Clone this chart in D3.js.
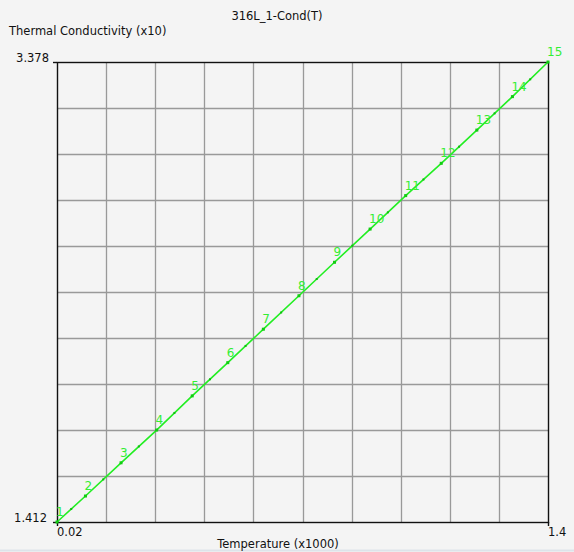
<!DOCTYPE html>
<html><head><meta charset="utf-8">
<script src="https://cdn.jsdelivr.net/npm/d3@7"></script>
<style>
html,body{margin:0;padding:0;background:#f4f4f4;}
svg{display:block;}
text{font-family:"DejaVu Sans",sans-serif;}
</style></head>
<body>
<svg id="c" width="574" height="552"></svg>
<script>
const title = "316L_1-Cond(T)";
const xLabel = "Temperature (x1000)";
const yLabel = "Thermal Conductivity (x10)";
const temperature = [0.02, 0.1, 0.2, 0.3, 0.4, 0.5, 0.6, 0.7, 0.8, 0.9, 1.0, 1.1, 1.2, 1.3, 1.4];
const conductivity = [1.412, 1.523, 1.665, 1.805, 1.951, 2.093, 2.236, 2.379, 2.522, 2.664, 2.807, 2.945, 3.087, 3.230, 3.378];
const pointLabels = ["1","2","3","4","5","6","7","8","9","10","11","12","13","14","15"];
const xTickLabels = ["0.02", "1.4"];
const yTickLabels = ["1.412", "3.378"];

const svg = d3.select("#c");
const L = 57, R = 548, T = 62, B = 522;
const x = d3.scaleLinear().domain([0.02, 1.4]).range([L, R]);
const y = d3.scaleLinear().domain([1.412, 3.378]).range([B, T]);

svg.append("rect").attr("width",574).attr("height",552).attr("fill","#f4f4f4");
svg.append("line").attr("x1",0).attr("x2",574).attr("y1",550.5).attr("y2",550.5).attr("stroke","#dde3ea").attr("stroke-width",2);

// grid 10x10
const gx = d3.range(1,10).map(i => L + (R-L)*i/10);
const gy = d3.range(1,10).map(i => T + (B-T)*i/10);
svg.append("g").selectAll("line").data(gx).join("line")
  .attr("x1",d=>Math.round(d)+0.5).attr("x2",d=>Math.round(d)+0.5).attr("y1",T).attr("y2",B)
  .attr("stroke","#999").attr("stroke-width",1.3);
svg.append("g").selectAll("line").data(gy).join("line")
  .attr("y1",d=>Math.round(d)+0.5).attr("y2",d=>Math.round(d)+0.5).attr("x1",L).attr("x2",R)
  .attr("stroke","#999").attr("stroke-width",1.3);

// frame
const frame = svg.append("g").attr("stroke","#111").attr("stroke-width",1.4).attr("fill","none");
frame.append("rect").attr("x",L+0.5).attr("y",T+0.5).attr("width",R-L).attr("height",B-T);
// tick marks
frame.append("line").attr("x1",L-4).attr("x2",L).attr("y1",T+0.5).attr("y2",T+0.5);
frame.append("line").attr("x1",L-4).attr("x2",L).attr("y1",B+0.5).attr("y2",B+0.5);
frame.append("line").attr("x1",L+0.5).attr("x2",L+0.5).attr("y1",B).attr("y2",B+4);
frame.append("line").attr("x1",R+0.5).attr("x2",R+0.5).attr("y1",B).attr("y2",B+4);

// texts
const fs = 11.5;
svg.append("text").attr("x",277).attr("y",20).attr("text-anchor","middle").attr("font-size",fs).attr("fill","#111").text(title);
svg.append("text").attr("x",9).attr("y",35).attr("font-size",fs).attr("fill","#111").text(yLabel);
svg.append("text").attr("x",278).attr("y",548).attr("text-anchor","middle").attr("font-size",fs).attr("fill","#111").text(xLabel);
svg.append("text").attr("x",49).attr("y",y(3.378)).attr("text-anchor","end").attr("font-size",fs).attr("fill","#111").text(yTickLabels[1]);
svg.append("text").attr("x",47).attr("y",y(1.412)).attr("text-anchor","end").attr("font-size",fs).attr("fill","#111").text(yTickLabels[0]);
svg.append("text").attr("x",x(0.02)).attr("y",536).attr("font-size",fs).attr("fill","#111").text(xTickLabels[0]);
svg.append("text").attr("x",x(1.4)).attr("y",536).attr("font-size",fs).attr("fill","#111").text(xTickLabels[1]);

// series
const pts = temperature.map((t,i)=>({t, v:conductivity[i], lab:pointLabels[i]}));
const green = "#22ee22";
svg.append("path").datum(pts)
  .attr("d", d3.line().x(d=>x(d.t)).y(d=>y(d.v)))
  .attr("fill","none").attr("stroke",green).attr("stroke-width",1.6);
// midpoint ticks between markers (rendering decoration)
const mids = d3.pairs(pts).map(([a,b]) => [(x(a.t)+x(b.t))/2, (y(a.v)+y(b.v))/2]);
svg.append("g").selectAll("rect").data(mids).join("rect")
  .attr("x",d=>d[0]-1).attr("y",d=>d[1]-1).attr("width",2).attr("height",2).attr("fill","#11bb11");
svg.append("g").selectAll("rect").data(pts).join("rect")
  .attr("x",d=>x(d.t)-1.5).attr("y",d=>y(d.v)-1.5).attr("width",3).attr("height",3).attr("fill","#11cc11");
svg.append("g").selectAll("text").data(pts).join("text")
  .attr("x",d=>x(d.t)-1).attr("y",d=>y(d.v)-6)
  .attr("font-size",12).attr("fill","#33ee33").text(d=>d.lab);
</script>
</body></html>
